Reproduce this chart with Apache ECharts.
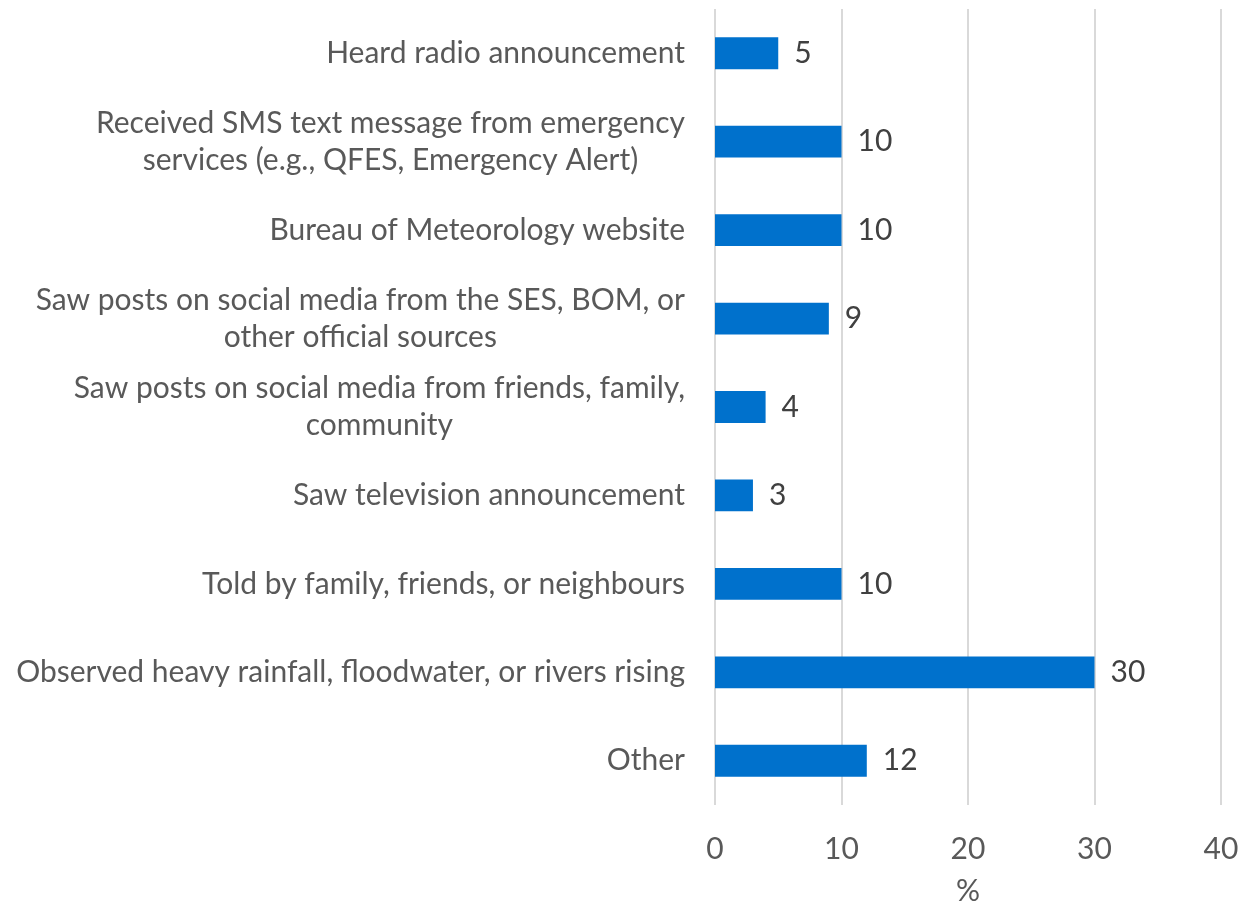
<!DOCTYPE html>
<html>
<head>
<meta charset="utf-8">
<script src="https://cdn.jsdelivr.net/npm/echarts@6/dist/echarts.min.js"></script>
<style>
  html, body { margin: 0; padding: 0; background: #fff; }
  #chart { width: 1242px; height: 904px; }
</style>
</head>
<body>
<div id="chart"></div>
<script>
// Information sources (share of respondents, %)
const categories = [
  'Heard radio announcement',
  'Received SMS text message from emergency\nservices (e.g., QFES, Emergency Alert)',
  'Bureau of Meteorology website',
  'Saw posts on social media from the SES, BOM, or\nother official sources',
  'Saw posts on social media from friends, family,\ncommunity',
  'Saw television announcement',
  'Told by family, friends, or neighbours',
  'Observed heavy rainfall, floodwater, or rivers rising',
  'Other'
];
const values = [5, 10, 10, 9, 4, 3, 10, 30, 12];
const axisTicks = [0, 10, 20, 30, 40];
const axisTitle = '%';

const FONT = 'Lato';
const TEXT_GREY = '#595959';
const chart = echarts.init(document.getElementById('chart'), null, { renderer: 'canvas' });
chart.setOption({
  animation: false,
  backgroundColor: '#ffffff',
  grid: {
    left: 715, right: 21, top: 9, bottom: 99,
    containLabel: false,
    outerBoundsMode: 'none'
  },
  xAxis: {
    type: 'value',
    min: axisTicks[0],
    max: axisTicks[axisTicks.length - 1],
    interval: axisTicks[1] - axisTicks[0],
    name: axisTitle,
    nameLocation: 'middle',
    nameGap: 71,
    nameTextStyle: { color: TEXT_GREY, fontSize: 30, fontFamily: FONT },
    axisLine: { show: false },
    axisTick: { show: false },
    axisLabel: { color: TEXT_GREY, fontSize: 30, fontFamily: FONT, margin: 29 },
    splitLine: { show: true, lineStyle: { color: '#d9d9d9', width: 2 } }
  },
  yAxis: {
    type: 'category',
    data: categories,
    inverse: true,
    axisLine: { show: false },
    axisTick: { show: false },
    axisLabel: {
      margin: 30,
      align: 'right',
      // each line is centred inside the right-anchored label block
      formatter: function (v) {
        return v.split('\n').map(function (line) { return '{c|' + line + '}'; }).join('\n');
      },
      rich: {
        c: {
          align: 'center',
          color: TEXT_GREY,
          fontSize: 30,
          fontFamily: FONT,
          lineHeight: 37
        }
      }
    }
  },
  series: [{
    type: 'bar',
    data: values,
    barWidth: '36%',
    itemStyle: { color: '#0071CC' },
    label: {
      show: true,
      position: 'right',
      distance: 16,
      color: '#404040',
      fontSize: 30,
      fontFamily: FONT
    }
  }]
});
</script>
</body>
</html>
